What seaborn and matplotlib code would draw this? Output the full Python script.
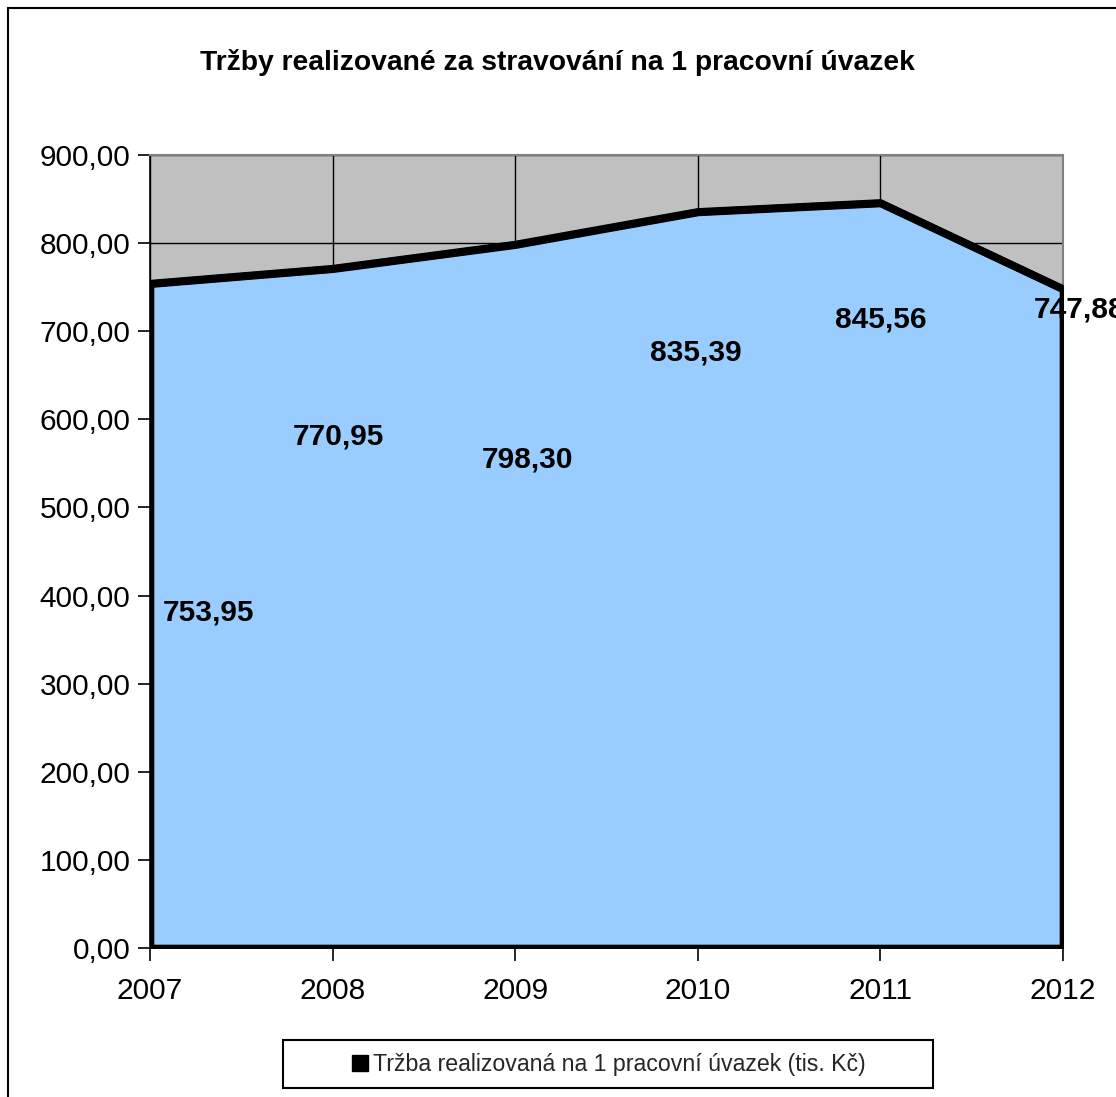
import numpy as np
import pandas as pd
import seaborn as sns
import matplotlib.pyplot as plt
from matplotlib.patches import Rectangle
from matplotlib.lines import Line2D
from matplotlib.ticker import FuncFormatter, MultipleLocator

# chart data
years = [2007, 2008, 2009, 2010, 2011, 2012]
revenue = [753.95, 770.95, 798.30, 835.39, 845.56, 747.88]
series_name = "Tržba realizovaná na 1 pracovní úvazek (tis. Kč)"
title = "Tržby realizované za stravování na 1 pracovní úvazek"

# where the value labels sit (data coords), as in the original
label_x = [2007.32, 2008.03, 2009.07, 2009.99, 2011.0, 2012.09]
label_y = [381, 580, 554, 676, 713, 725]

df = pd.DataFrame({"year": years, "value": revenue})

sns.set_theme(style="white")
plt.rcParams['font.family'] = ['Liberation Sans', 'DejaVu Sans']

W, H = 1116, 1097
fig = plt.figure(figsize=(W / 100, H / 100), dpi=100)
fig.patch.set_facecolor("white")

# outer chart frame
fig.add_artist(Rectangle((8 / W, -0.1), 1.2, 1 - 8 / H + 0.1, transform=fig.transFigure,
                         fill=False, edgecolor="black", lw=1.5))

ax = fig.add_axes([150 / W, (H - 948) / H, 913 / W, 793 / H])
ax.set_facecolor("#C0C0C0")

ax.fill_between(df["year"], 0, df["value"], facecolor="#99CCFF", edgecolor="black",
                linewidth=5.5, zorder=3, joinstyle="miter")
sns.lineplot(data=df, x="year", y="value", color="black", linewidth=5.5, ax=ax,
             zorder=4, legend=False)

ax.set_xlim(2007, 2012)
ax.set_ylim(0, 900)
ax.xaxis.set_major_locator(MultipleLocator(1))
ax.yaxis.set_major_locator(MultipleLocator(100))
ax.yaxis.set_major_formatter(FuncFormatter(lambda v, p: f"{v:.2f}".replace(".", ",")))
ax.xaxis.set_major_formatter(FuncFormatter(lambda v, p: f"{int(v)}"))
ax.grid(True, color="black", linewidth=1, zorder=1)
ax.set_axisbelow(True)
ax.set_xlabel("")
ax.set_ylabel("")

ax.tick_params(axis="both", direction="out", length=9, width=1.2, color="black",
               labelsize=21.5, labelcolor="black", bottom=True, left=True)
ax.tick_params(axis="x", pad=12)
ax.tick_params(axis="y", pad=5)

for side in ["top", "right"]:
    ax.spines[side].set_color("#808080")
    ax.spines[side].set_linewidth(1.5)
for side in ["left", "bottom"]:
    ax.spines[side].set_color("black")
    ax.spines[side].set_linewidth(1.2)

for x, y, v in zip(label_x, label_y, revenue):
    ax.text(x, y, f"{v:.2f}".replace(".", ","), ha="center", va="center",
            fontsize=21.5, fontweight="bold", color="black", zorder=6, clip_on=False)

fig.text(557 / W, 1 - 62 / H, title, ha="center", va="center", fontsize=20.3,
         fontweight="bold", color="black")

# legend box
fig.add_artist(Rectangle((283 / W, 1 - 1088 / H), 650 / W, 48 / H, transform=fig.transFigure,
                         facecolor="white", edgecolor="black", lw=1.5))
handle = Line2D([], [], linestyle="none", marker="s", markersize=12,
                markerfacecolor="black", markeredgecolor="black")
fig.legend([handle], [series_name], loc="center", bbox_to_anchor=(608 / W, 1 - 1065 / H),
           frameon=False, fontsize=16.7, handlelength=0.8, handletextpad=0.15)

fig.savefig("out.png", dpi=100)
